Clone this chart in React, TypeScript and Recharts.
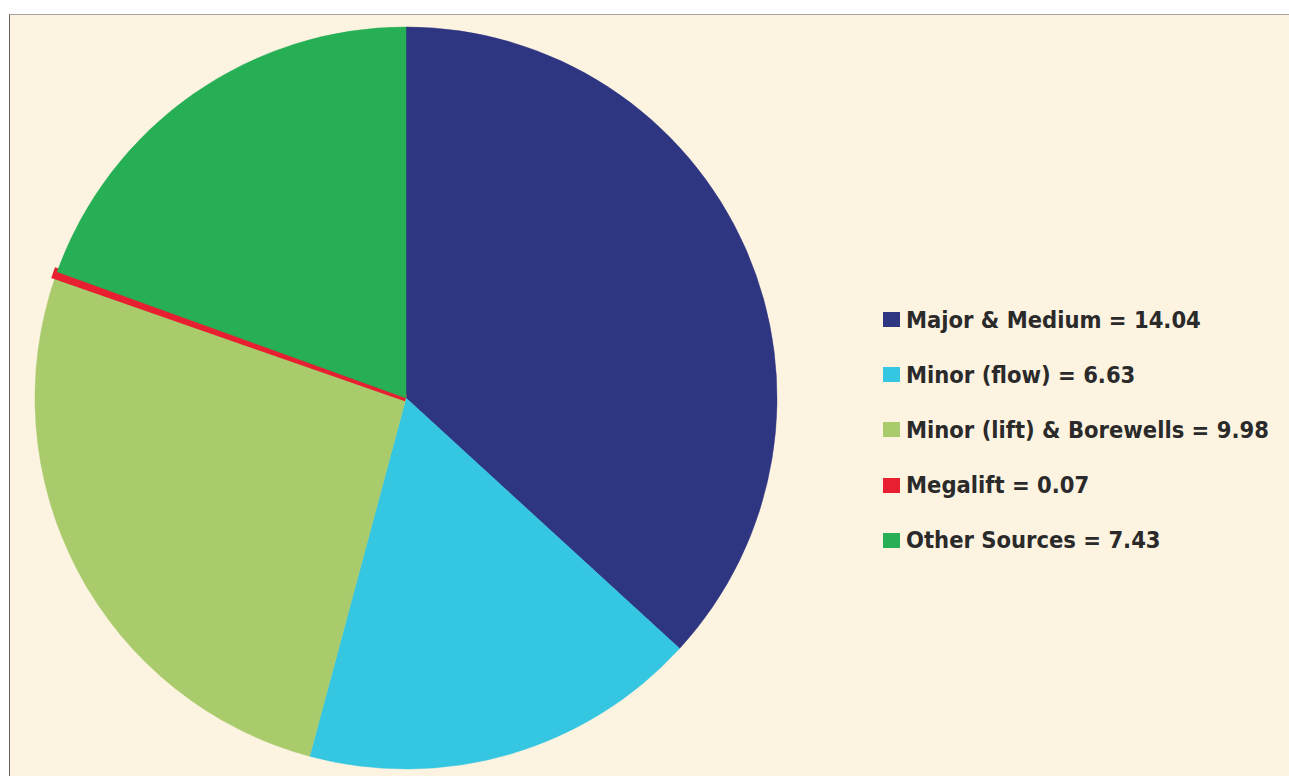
import React from "react";
import { PieChart, Pie, Cell, Legend } from "recharts";

const categories = ["Major & Medium", "Minor (flow)", "Minor (lift) & Borewells", "Megalift", "Other Sources"];
const values = [14.04, 6.63, 9.98, 0.07, 7.43];
const valueLabels = ["14.04", "6.63", "9.98", "0.07", "7.43"];
const colors = ["#2E3581", "#35C6E1", "#A9CB6B", "#E81F30", "#27AF56"];

const data = categories.map((name, i) => ({ name, value: values[i], label: valueLabels[i] }));

const LegendContent = () => (
  <div style={{ fontFamily: "'DejaVu Sans Condensed', 'DejaVu Sans', sans-serif", fontWeight: 700, fontSize: 23.5, color: "#2a2a2a" }}>
    {data.map((d, i) => (
      <div key={d.name} style={{ display: "flex", alignItems: "center", height: 55.2, whiteSpace: "nowrap" }}>
        <span style={{ display: "inline-block", width: 17, height: 15, background: colors[i], marginRight: 6 }} />
        <span>{d.name} = {d.label}</span>
      </div>
    ))}
  </div>
);

export default function App() {
  return (
    <div style={{ position: "absolute", left: 0, top: 0, width: 1289, height: 776, background: "#ffffff", overflow: "hidden" }}>
      <div
        style={{
          position: "absolute",
          left: 9,
          top: 14,
          width: 1280,
          height: 762,
          background: "#FDF3E1",
          borderTop: "1px solid #a8a49c",
          borderLeft: "1px solid #6a665e",
          boxSizing: "border-box",
        }}
      >
        <PieChart width={1279} height={761} style={{ position: "absolute", left: 0, top: 0 }}>
          <Pie
            data={data}
            dataKey="value"
            nameKey="name"
            cx={391}
            cy={378}
            outerRadius={371}
            startAngle={90}
            endAngle={-270}
            isAnimationActive={false}
          >
            {data.map((d, i) => (
              <Cell key={d.name} fill={colors[i]} stroke={colors[i]} strokeWidth={i === 3 ? 7 : 0.5} />
            ))}
          </Pie>
          <Legend
            layout="vertical"
            content={<LegendContent />}
            wrapperStyle={{ position: "absolute", left: 873, top: 277, width: 420 }}
          />
        </PieChart>
      </div>
    </div>
  );
}
